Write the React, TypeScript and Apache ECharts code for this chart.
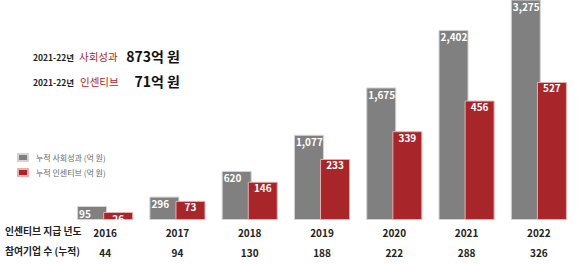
import React, { useEffect, useRef } from "react";
import * as echarts from "echarts";

const years = ["2016", "2017", "2018", "2019", "2020", "2021", "2022"];
const companies = [44, 94, 130, 188, 222, 288, 326];
const socialValue = [95, 296, 620, 1077, 1675, 2402, 3275];
const incentive = [26, 73, 146, 233, 339, 456, 527];
const seriesNames = ["누적 사회성과 (억 원)", "누적 인센티브 (억 원)"];

const FONT = "'Noto Sans CJK KR', 'Noto Sans', sans-serif";
const GRAY = "#808080";
const RED = "#a8262a";

export default function App() {
  const ref = useRef<HTMLDivElement>(null);
  useEffect(() => {
    if (!ref.current) return;
    const chart = echarts.init(ref.current, null, { renderer: "svg" });
    chart.setOption({
      animation: false,
      textStyle: { fontFamily: FONT },
      grid: { left: 69, right: 5, top: 0, bottom: 44 },
      legend: {
        orient: "vertical",
        left: 17,
        top: 153,
        padding: 0,
        icon: "rect",
        itemWidth: 10,
        itemHeight: 7,
        itemGap: 6,
        data: seriesNames,
        textStyle: { fontSize: 8, color: "#666", fontFamily: FONT, padding: [0, 0, 0, 3] },
      },
      xAxis: {
        type: "category",
        data: years,
        axisLine: { show: false },
        axisTick: { show: false },
        axisLabel: {
          margin: 2,
          formatter: (v: string, i: number) => `{y|${v}}\n{c|${companies[i]}}`,
          rich: {
            y: { fontSize: 10, fontWeight: "bold", color: "#222", lineHeight: 20, fontFamily: FONT },
            c: { fontSize: 10, fontWeight: "bold", color: "#222", lineHeight: 20, fontFamily: FONT },
          },
        },
      },
      yAxis: [
        { type: "value", min: 0, max: 2780, show: false },
        { type: "value", min: 0, max: 840, show: false },
      ],
      series: [
        {
          name: seriesNames[0],
          type: "bar",
          yAxisIndex: 0,
          data: socialValue,
          barWidth: 30,
          barGap: "-13%",
          barMinHeight: 14,
          itemStyle: { color: GRAY, borderColor: "#d4d4d4", borderWidth: 1 },
          label: {
            show: true,
            position: "insideTopLeft",
            distance: 2,
            color: "#fff",
            fontSize: 10,
            fontWeight: "bold",
            fontFamily: FONT,
            formatter: (p: any) => Number(p.value).toLocaleString("en-US"),
          },
        },
        {
          name: seriesNames[1],
          type: "bar",
          yAxisIndex: 1,
          data: incentive,
          barWidth: 30,
          barGap: "-13%",
          barMinHeight: 8,
          itemStyle: { color: RED, borderColor: "#e6b0b0", borderWidth: 1 },
          label: {
            show: true,
            position: "insideTop",
            distance: 1,
            color: "#fff",
            fontSize: 10,
            fontWeight: "bold",
            fontFamily: FONT,
            formatter: (p: any) => Number(p.value).toLocaleString("en-US"),
          },
        },
      ],
      graphic: [
        { type: "text", left: 33, top: 53, style: { text: "2021-22년", fontSize: 8.5, fontWeight: "bold", fill: "#222", fontFamily: FONT } },
        { type: "text", left: 79, top: 51, style: { text: "사회성과", fontSize: 10.5, fill: RED, fontFamily: FONT } },
        { type: "text", right: 400, top: 49, style: { text: "873억 원", fontSize: 14, fontWeight: "bold", fill: "#111", fontFamily: FONT } },
        { type: "text", left: 33, top: 78, style: { text: "2021-22년", fontSize: 8.5, fontWeight: "bold", fill: "#222", fontFamily: FONT } },
        { type: "text", left: 80, top: 76, style: { text: "인센티브", fontSize: 10.5, fill: RED, fontFamily: FONT } },
        { type: "text", right: 400, top: 74, style: { text: "71억 원", fontSize: 14, fontWeight: "bold", fill: "#111", fontFamily: FONT } },
        { type: "text", left: 5, top: 226, style: { text: "인센티브 지급 년도", fontSize: 9.8, fontWeight: "bold", fill: "#222", fontFamily: FONT } },
        { type: "text", left: 5, top: 246, style: { text: "참여기업 수 (누적)", fontSize: 9.8, fontWeight: "bold", fill: "#222", fontFamily: FONT } },
      ],
    });
    return () => chart.dispose();
  }, []);
  return <div ref={ref} style={{ width: 580, height: 264, position: "absolute", left: 0, top: 0 }} />;
}
